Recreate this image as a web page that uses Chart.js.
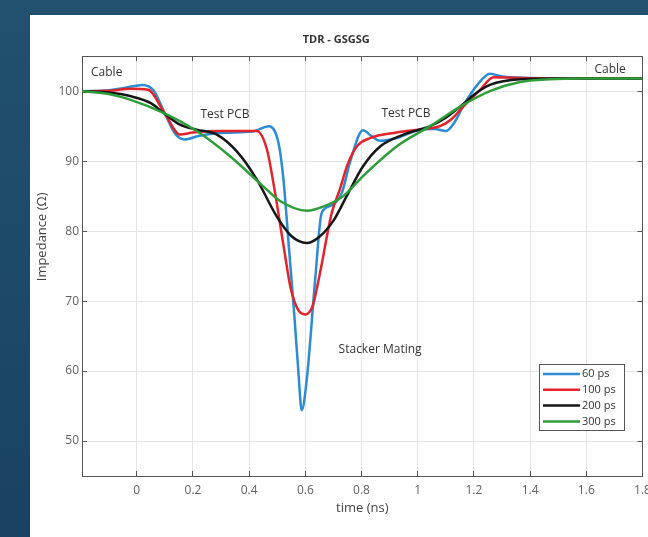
<!DOCTYPE html>
<html>
<head>
<meta charset="utf-8">
<script src="https://cdn.jsdelivr.net/npm/chart.js@4.4.0/dist/chart.umd.min.js"></script>
<style>
  html, body { margin: 0; padding: 0; }
  body { width: 648px; height: 537px; overflow: hidden; position: relative;
         background: linear-gradient(#21516f, #1a4262); }
  #panel { position: absolute; left: 30px; top: 15px; width: 618px; height: 522px; background: #fff; }
  #tdr { position: absolute; left: 0; top: 0; }
</style>
</head>
<body>
<div id="panel"><canvas id="tdr" width="618" height="522"></canvas></div>
<script>
// --- datos: tiempo (ns) / impedancia (ohm) ---
const t60  = [-0.195, -0.1, -0.04, 0.02, 0.06, 0.1, 0.135, 0.17, 0.22, 0.28, 0.35, 0.42, 0.47, 0.505, 0.522, 0.541, 0.56, 0.575, 0.587, 0.605, 0.635, 0.658, 0.69, 0.73, 0.76, 0.805, 0.835, 0.866, 0.925, 1.0, 1.06, 1.1, 1.13, 1.165, 1.21, 1.257, 1.3, 1.4, 1.6, 1.8];
const z60  = [100, 100.15, 100.5, 100.9, 100.1, 96.8, 94.0, 93.1, 93.6, 94.0, 94.1, 94.3, 95.0, 92.5, 87.4, 77.9, 68.4, 60.0, 54.4, 58.8, 73.1, 82.6, 83.6, 85.5, 90.0, 94.4, 93.6, 92.9, 93.3, 94.4, 94.6, 94.3, 95.5, 98.1, 100.8, 102.5, 102.1, 101.9, 101.8, 101.8];

const t100 = [-0.195, -0.1, -0.02, 0.04, 0.1, 0.154, 0.2, 0.3, 0.427, 0.463, 0.49, 0.522, 0.548, 0.575, 0.6, 0.625, 0.65, 0.694, 0.723, 0.75, 0.783, 0.83, 0.925, 1.0, 1.079, 1.12, 1.162, 1.222, 1.27, 1.35, 1.5, 1.8];
const z100 = [100, 100.05, 100.35, 100.2, 96.8, 93.8, 94.1, 94.3, 94.3, 91.7, 86.0, 78.0, 71.8, 68.7, 68.1, 69.2, 73.6, 82.6, 86.0, 89.5, 92.1, 93.3, 94.1, 94.5, 95.0, 96.0, 97.8, 100.2, 102.0, 101.9, 101.8, 101.8];

const t200 = [-0.195, -0.1, -0.024, 0.05, 0.095, 0.15, 0.213, 0.285, 0.356, 0.427, 0.498, 0.55, 0.605, 0.65, 0.7, 0.747, 0.806, 0.866, 0.949, 1.044, 1.1, 1.16, 1.2, 1.257, 1.364, 1.5, 1.8];
const z200 = [100, 99.8, 99.3, 98.3, 96.9, 95.3, 94.5, 93.8, 91.4, 87.4, 82.1, 79.3, 78.3, 79.2, 81.5, 85.0, 89.3, 92.1, 93.8, 95.0, 96.2, 98.1, 99.5, 100.9, 101.7, 101.8, 101.8];

const t300 = [-0.195, -0.1, -0.024, 0.095, 0.213, 0.332, 0.45, 0.51, 0.605, 0.67, 0.735, 0.806, 0.925, 1.044, 1.16, 1.257, 1.364, 1.47, 1.6, 1.8];
const z300 = [100, 99.6, 98.8, 96.9, 94.3, 90.7, 86.4, 84.3, 82.9, 83.6, 85.0, 87.9, 92.1, 95.0, 98.0, 100.0, 101.3, 101.7, 101.8, 101.8];

const series = ['60 ps', '100 ps', '200 ps', '300 ps'];
const colores = ['#2b8bd3', '#e3232a', '#161616', '#2e9c38'];

const xTicks = [0, 0.2, 0.4, 0.6, 0.8, 1, 1.2, 1.4, 1.6, 1.8];
const yTicks = [50, 60, 70, 80, 90, 100];

// etiquetas dentro del grafico (en unidades de datos)
const notas = [
  { text: 'Cable', x: -0.107, y: 102.6 },
  { text: 'Test PCB', x: 0.314, y: 96.7 },
  { text: 'Test PCB', x: 0.958, y: 96.8 },
  { text: 'Cable', x: 1.685, y: 103.1 },
  { text: 'Stacker Mating', x: 0.866, y: 63 }
];

const toPts = (t, z) => t.map((v, i) => ({ x: v, y: z[i] }));
const curvas = [[t60, z60], [t100, z100], [t200, z200], [t300, z300]];

const FONT = 'Open Sans';
const EJE = '#555';

// texto de anotaciones
const notasPlugin = {
  id: 'notas',
  afterDatasetsDraw(chart) {
    const { ctx, scales } = chart;
    ctx.save();
    ctx.font = '12px "' + FONT + '"';
    ctx.fillStyle = '#333';
    ctx.textAlign = 'center';
    ctx.textBaseline = 'middle';
    notas.forEach(n => {
      ctx.fillText(n.text, scales.x.getPixelForValue(n.x), scales.y.getPixelForValue(n.y));
    });
    ctx.restore();
  }
};

// leyenda tipo MATLAB dentro del area
const leyendaPlugin = {
  id: 'leyendaDentro',
  afterDraw(chart) {
    const { ctx, chartArea } = chart;
    const w = 85, h = 66;
    const x0 = chartArea.right - 18.5 - w;
    const y0 = chartArea.bottom - 46 - h;
    ctx.save();
    ctx.fillStyle = '#fff';
    ctx.fillRect(x0, y0, w, h);
    ctx.strokeStyle = EJE;
    ctx.lineWidth = 1;
    ctx.strokeRect(Math.round(x0) + 0.5, Math.round(y0) + 0.5, w, h);
    ctx.font = '11px "' + FONT + '"';
    ctx.textBaseline = 'middle';
    chart.data.datasets.forEach((ds, i) => {
      const yy = y0 + 10 + i * 15.8;
      ctx.strokeStyle = ds.borderColor;
      ctx.lineWidth = 2.5;
      ctx.beginPath();
      ctx.moveTo(x0 + 4, yy);
      ctx.lineTo(x0 + 41, yy);
      ctx.stroke();
      ctx.fillStyle = '#333';
      ctx.fillText(ds.label, x0 + 43, yy);
    });
    ctx.restore();
  }
};

const setTicks = vals => s => { s.ticks = vals.map(v => ({ value: v })); };
const tickFont = { family: FONT, size: 12 };

new Chart(document.getElementById('tdr'), {
  type: 'line',
  data: {
    datasets: curvas.map((c, i) => ({
      label: series[i],
      data: toPts(c[0], c[1]),
      borderColor: colores[i],
      backgroundColor: colores[i],
      borderWidth: 2.5,
      pointRadius: 0,
      cubicInterpolationMode: 'monotone',
      order: 4 - i
    }))
  },
  options: {
    responsive: false,
    animation: false,
    layout: { padding: { left: 0, right: 5.5, top: 0, bottom: 0 } },
    plugins: {
      legend: { display: false },
      tooltip: { enabled: false },
      title: {
        display: true,
        text: 'TDR - GSGSG',
        color: '#333',
        font: { family: FONT, size: 11, weight: 'bold' },
        padding: { top: 18, bottom: 10 }
      }
    },
    scales: {
      x: {
        type: 'linear', position: 'bottom', min: -0.195, max: 1.8,
        afterBuildTicks: setTicks(xTicks),
        ticks: { font: tickFont, color: '#606060', padding: 12, maxRotation: 0, autoSkip: false,
                 callback: v => String(v) },
        grid: { color: '#e4e4e4', tickLength: -5, tickColor: EJE },
        border: { color: EJE, width: 1 },
        title: { display: true, text: 'time (ns)', color: '#444',
                 font: { family: FONT, size: 13 }, padding: { top: 0, bottom: 21 } },
        afterFit: s => { s.height = 61; s.paddingLeft = 0; s.paddingRight = 0; }
      },
      x2: {
        type: 'linear', position: 'top', min: -0.195, max: 1.8,
        afterBuildTicks: setTicks(xTicks),
        ticks: { display: false },
        grid: { drawOnChartArea: false, tickLength: -5, tickColor: EJE },
        border: { color: EJE, width: 1 },
        afterFit: s => { s.height = 0; s.paddingLeft = 0; s.paddingRight = 0; }
      },
      y: {
        type: 'linear', position: 'left', min: 45, max: 105,
        afterBuildTicks: setTicks(yTicks),
        ticks: { font: tickFont, color: '#606060', padding: 8 },
        grid: { color: '#e4e4e4', tickLength: -5, tickColor: EJE },
        border: { color: EJE, width: 1 },
        title: { display: true, text: '\u2002\u2002\u2002\u2002\u2002\u2002\u2002\u2002\u2002Impedance (\u03a9)', color: '#444',
                 font: { family: FONT, size: 13 }, padding: { top: 4, bottom: 0 } },
        afterFit: s => { s.width = 52; s.paddingTop = 0; s.paddingBottom = 0; }
      },
      y2: {
        type: 'linear', position: 'right', min: 45, max: 105,
        afterBuildTicks: setTicks(yTicks),
        ticks: { display: false },
        grid: { drawOnChartArea: false, tickLength: -5, tickColor: EJE },
        border: { color: EJE, width: 1 },
        afterFit: s => { s.width = 0; s.paddingTop = 0; s.paddingBottom = 0; }
      }
    }
  },
  plugins: [notasPlugin, leyendaPlugin]
});
</script>
</body>
</html>
